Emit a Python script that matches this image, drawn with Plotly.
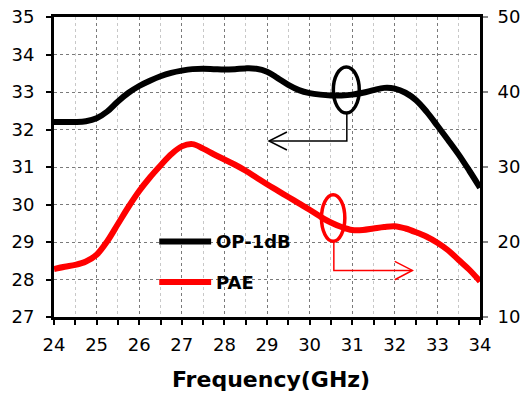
import plotly.graph_objects as go

# ---- data ----
freq = [24, 24.25, 24.5, 24.75, 25, 25.25, 25.5, 25.75, 26, 26.25, 26.5, 26.75, 27, 27.25, 27.5, 27.75,
        28, 28.25, 28.5, 28.75, 29, 29.25, 29.5, 29.75, 30, 30.25, 30.5, 30.75, 31, 31.25, 31.5, 31.75,
        32, 32.25, 32.5, 32.75, 33, 33.25, 33.5, 33.75, 34]
op_vals = [32.2, 32.2, 32.2, 32.22, 32.3, 32.48, 32.75, 32.98, 33.16, 33.3, 33.42, 33.51, 33.57, 33.61, 33.62, 33.61,
           33.6, 33.61, 33.63, 33.62, 33.54, 33.37, 33.19, 33.05, 32.97, 32.93, 32.91, 32.91, 32.93, 32.98, 33.05, 33.11,
           33.09, 32.98, 32.78, 32.47, 32.1, 31.72, 31.33, 30.9, 30.45]
pae_vals = [16.4, 16.7, 16.95, 17.4, 18.3, 20.1, 22.4, 24.7, 26.8, 28.6, 30.2, 31.7, 32.75, 33.05, 32.45, 31.7,
            31.0, 30.3, 29.5, 28.6, 27.7, 26.85, 26.0, 25.15, 24.3, 23.4, 22.6, 22.0, 21.6, 21.6, 21.8, 22.0,
            22.1, 21.8, 21.3, 20.7, 19.9, 18.9, 17.6, 16.3, 14.75]

x_ticks = [24, 25, 26, 27, 28, 29, 30, 31, 32, 33, 34]
y_left_ticks = [27, 28, 29, 30, 31, 32, 33, 34, 35]
y_right_ticks = [10, 20, 30, 40, 50]

series_names = ["OP-1dB", "PAE"]
series_colors = ["#000000", "#ff0000"]

FONT = "DejaVu Sans"

fig = go.Figure()
fig.add_trace(go.Scatter(x=freq, y=op_vals, mode="lines", name=series_names[0],
                         line=dict(color=series_colors[0], width=6, shape="spline", smoothing=1.0),
                         yaxis="y"))
fig.add_trace(go.Scatter(x=freq, y=pae_vals, mode="lines", name=series_names[1],
                         line=dict(color=series_colors[1], width=6, shape="spline", smoothing=1.0),
                         yaxis="y2"))

shapes = []
# annotation ellipse + arrow for OP-1dB (left axis)
shapes.append(dict(type="circle", xref="x", yref="y", x0=30.557, x1=31.166, y0=32.44, y1=33.67,
                   line=dict(color="black", width=3.5)))
shapes.append(dict(type="path", xref="x", yref="y",
                   path="M 30.874 32.44 L 30.874 31.693 L 29.047 31.693",
                   line=dict(color="black", width=1.5)))
shapes.append(dict(type="path", xref="x", yref="y",
                   path="M 29.468 31.933 L 29.047 31.693 L 29.468 31.453",
                   line=dict(color="black", width=1.5)))
# annotation ellipse + arrow for PAE (right axis)
shapes.append(dict(type="circle", xref="x", yref="y2", x0=30.279, x1=30.827, y0=20.09, y1=26.31,
                   line=dict(color="red", width=3.5)))
shapes.append(dict(type="path", xref="x", yref="y2",
                   path="M 30.569 20.08 L 30.569 16.21 L 32.412 16.21",
                   line=dict(color="red", width=1.5)))
shapes.append(dict(type="path", xref="x", yref="y2",
                   path="M 31.998 17.41 L 32.412 16.21 L 31.998 14.97",
                   line=dict(color="red", width=1.5)))
# legend samples (paper coords)
W, H = 524, 396
L, R, T, B = 53.5, 43.5, 17, 78.7
pw, ph = W - L - R, H - T - B
def px(xp):
    return (xp - L) / pw
def py(yp):
    return (H - B - yp) / ph
legend_y = [241.7, 282.3]
for i in range(2):
    shapes.append(dict(type="line", xref="paper", yref="paper", x0=px(159), x1=px(211),
                       y0=py(legend_y[i]), y1=py(legend_y[i]),
                       line=dict(color=series_colors[i], width=6), layer="above"))

annotations = []
for i in range(2):
    annotations.append(dict(text="<b>%s</b>" % series_names[i], xref="paper", yref="paper",
                            x=px(214), y=py(legend_y[i]), xanchor="left", yanchor="middle",
                            showarrow=False, font=dict(family=FONT, size=18, color="black")))
annotations.append(dict(text="<b>Frequency(GHz)</b>", xref="paper", yref="paper",
                        x=px(271.5), y=py(380), xanchor="center", yanchor="middle",
                        showarrow=False, font=dict(family=FONT, size=22, color="black")))

fig.update_layout(
    width=W, height=H,
    margin=dict(l=L, r=R, t=T, b=B, pad=0, autoexpand=False),
    paper_bgcolor="white", plot_bgcolor="white",
    showlegend=False,
    font=dict(family=FONT, size=18, color="black"),
    shapes=shapes, annotations=annotations,
    xaxis=dict(range=[24, 34], tickvals=x_ticks, ticks="outside", ticklen=5, tickwidth=1.5,
               tickcolor="black", showline=True, linewidth=3, linecolor="black", mirror=True,
               showgrid=True, gridcolor="#7a7a7a", griddash="dot", gridwidth=1,
               minor=dict(dtick=0.5, ticks="outside", ticklen=5, tickwidth=1.5, tickcolor="black",
                          showgrid=True, gridcolor="#c8c8c8", griddash="dot", gridwidth=1),
               ticklabelstandoff=4, zeroline=False, automargin=False,
               tickfont=dict(family=FONT, size=18, color="black")),
    yaxis=dict(range=[27, 35], tickvals=y_left_ticks, ticks="outside", ticklen=5, tickwidth=1.5,
               tickcolor="black", showline=True, linewidth=3, linecolor="black",
               showgrid=True, gridcolor="#7a7a7a", griddash="dot", gridwidth=1,
               ticklabelstandoff=8, zeroline=False, automargin=False,
               tickfont=dict(family=FONT, size=18, color="black")),
    yaxis2=dict(range=[10, 50], tickvals=y_right_ticks, overlaying="y", side="right",
                ticks="outside", ticklen=5, tickwidth=1.5, tickcolor="#888888",
                showline=True, linewidth=3, linecolor="black", showgrid=False, zeroline=False,
                ticklabelstandoff=6, automargin=False,
                tickfont=dict(family=FONT, size=18, color="black")),
)

fig.write_html("out.html")
